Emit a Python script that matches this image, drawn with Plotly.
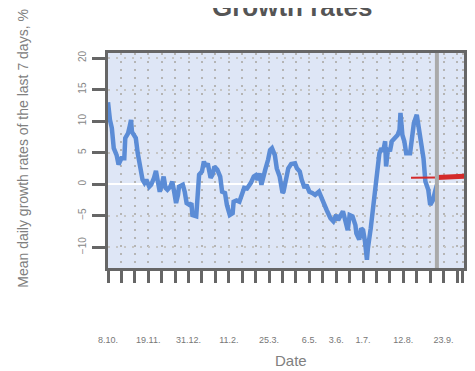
import pandas as pd
import plotly.graph_objects as go

START = "2020-10-08"

# day offsets from START and mean daily growth rates (%)
day_offsets = [0, 1, 2, 4, 5, 6, 9, 11, 14, 17, 18, 21, 23, 24, 25, 27, 29, 31, 34, 36,
               38, 40, 43, 45, 48, 50, 52, 54, 56, 58, 60, 62, 65, 67, 69, 71, 73, 74, 78, 80,
               82, 85, 87, 88, 92, 93, 95, 98, 100, 102, 104, 107, 109, 111, 114, 117, 119, 122, 124, 127,
               130, 131, 134, 137, 139, 142, 145, 149, 152, 154, 156, 158, 160, 162, 164, 167, 169, 171, 174, 176,
               179, 182, 183, 186, 188, 191, 195, 197, 200, 202, 205, 207, 210, 213, 216, 220, 222, 225, 228, 232,
               235, 238, 240, 245, 247, 250, 252, 255, 258, 259, 262, 264, 266, 268, 270, 271, 274, 277, 279, 281,
               283, 285, 287, 289, 290, 292, 294, 296, 299, 302, 304, 305, 307, 309, 311, 315, 317, 319, 322, 323,
               326, 329, 331, 334, 336, 339, 341, 343]
growth = [13.0, 10.5, 10.2, 8.9, 7.3, 5.7, 4.6, 3.1, 4.1, 4.1, 7.3, 8.1, 9.4, 10.2, 8.3, 7.6, 7.3, 4.9, 2.5, 0.7,
          0.2, 0.7, -0.4, -0.1, 1.0, 2.1, 0.4, -1.2, -0.1, 1.2, -0.6, -0.9, -0.4, 0.4, -1.2, -3.0, -1.7, -0.4, -0.1, -1.2,
          -3.0, -3.3, -3.0, -4.9, -5.1, -2.8, 1.5, 2.0, 3.6, 2.8, 3.3, 1.0, 1.5, 2.8, 2.3, 1.2, -1.2, -1.4, -3.3, -4.9,
          -4.6, -2.8, -2.6, -2.8, -1.7, -0.6, -0.7, 0.2, 1.2, 1.4, 0.7, 1.7, -0.1, 1.5, 2.3, 3.9, 5.4, 5.7, 4.6, 2.5,
          1.2, -1.4, -1.2, 1.0, 2.5, 3.2, 3.3, 2.5, 2.0, 0.7, -0.6, -0.1, -1.2, -1.4, -1.7, -1.2, -2.0, -3.0, -4.1, -5.4,
          -5.9, -4.9, -5.7, -4.3, -5.4, -7.3, -4.9, -5.1, -6.5, -7.8, -8.8, -7.0, -7.3, -9.1, -12.0, -10.2, -7.0, -3.3, -0.1, 1.5,
          4.9, 5.7, 5.2, 6.8, 2.8, 5.7, 5.2, 6.8, 7.3, 7.8, 8.6, 11.3, 7.8, 6.8, 4.9, 4.9, 7.3, 9.7, 11.0, 9.9,
          7.6, 4.1, 0.4, -0.9, -3.3, -2.5, -1.2, -0.1]

# forecast (red): thin part before "today", thick part after
fc_past_dates = ["2021-08-20", "2021-09-16"]
fc_past_vals = [1.0, 1.05]
fc_future_dates = ["2021-09-16", "2021-10-15"]
fc_future_vals = [1.05, 1.25]

today = "2021-09-16"

tick_dates = ["2020-10-08", "2020-10-22", "2020-11-05", "2020-11-19", "2020-12-03", "2020-12-17",
              "2020-12-31", "2021-01-14", "2021-01-28", "2021-02-11", "2021-02-25", "2021-03-11",
              "2021-03-25", "2021-04-08", "2021-04-22", "2021-05-06", "2021-05-20", "2021-06-03",
              "2021-06-17", "2021-07-01", "2021-07-15", "2021-07-29", "2021-08-12", "2021-08-26",
              "2021-09-09", "2021-09-23", "2021-10-07", "2021-10-13"]
tick_labels = ["8.10.", "", "", "19.11.", "", "", "31.12.", "", "", "11.2.", "", "", "25.3.", "", "",
               "6.5.", "", "3.6.", "", "1.7.", "", "", "12.8.", "", "", "23.9.", "", ""]

y_ticks = [-10, -5, 0, 5, 10, 15, 20]

dates = pd.to_datetime(START) + pd.to_timedelta(day_offsets, unit="D")

FONT = "Liberation Sans, Arial, sans-serif"
AXIS = "#666666"

fig = go.Figure()
fig.add_trace(go.Scatter(x=dates, y=growth, mode="lines",
                         line=dict(color="#5b8cd6", width=4.5), hoverinfo="skip"))
fig.add_trace(go.Scatter(x=fc_past_dates, y=fc_past_vals, mode="lines",
                         line=dict(color="#d42a2a", width=2), hoverinfo="skip"))
fig.add_trace(go.Scatter(x=fc_future_dates, y=fc_future_vals, mode="lines",
                         line=dict(color="#d42a2a", width=5), hoverinfo="skip"))

fig.add_shape(type="line", x0=today, x1=today, y0=0, y1=1, xref="x", yref="paper",
              line=dict(color="#aaaaaa", width=4), layer="above")

fig.update_layout(
    width=459, height=363,
    margin=dict(l=100, r=0, t=45, b=103),
    paper_bgcolor="white", plot_bgcolor="#dee6f6",
    showlegend=False,
    font=dict(family=FONT, color="#777777"),
    xaxis=dict(
        type="date", range=["2020-10-08", "2021-10-14 06:00"],
        tickvals=tick_dates, ticktext=tick_labels,
        ticks="outside", ticklen=12, tickwidth=2.5, tickcolor=AXIS,
        ticklabelstandoff=49,
        tickfont=dict(size=9, color="#777777"),
        showline=True, linecolor=AXIS, linewidth=2.5, mirror=True,
        showgrid=True, gridcolor="#b5b5b5", gridwidth=1.5, griddash="2px,6px",
        zeroline=False,
    ),
    yaxis=dict(
        range=[-13.3, 20.8],
        tickvals=y_ticks,
        ticks="outside", ticklen=13, tickwidth=2.5, tickcolor=AXIS,
        tickangle=-90, ticklabelstandoff=2,
        tickfont=dict(size=10, color="#888888"),
        showline=True, linecolor=AXIS, linewidth=2.5, mirror=True,
        showgrid=True, gridcolor="#c5c5c5", gridwidth=1.5, griddash="2px,6px",
        zeroline=True, zerolinecolor="white", zerolinewidth=2,
    ),
    annotations=[
        dict(text="<b>Growth rates</b>", x=0.518, y=1.214, xref="paper", yref="paper",
             xanchor="center", yanchor="middle", showarrow=False,
             font=dict(family=FONT, size=26, color="#555555")),
        dict(text="Mean daily growth rates of the last 7 days, %", x=-0.2396, y=0.558,
             xref="paper", yref="paper", xanchor="center", yanchor="middle",
             textangle=-90, showarrow=False,
             font=dict(family=FONT, size=14, color="#808080")),
        dict(text="Date", x=0.515, y=-0.428, xref="paper", yref="paper",
             xanchor="center", yanchor="middle", showarrow=False,
             font=dict(family=FONT, size=15, color="#808080")),
    ],
)

fig.write_html("out.html")
